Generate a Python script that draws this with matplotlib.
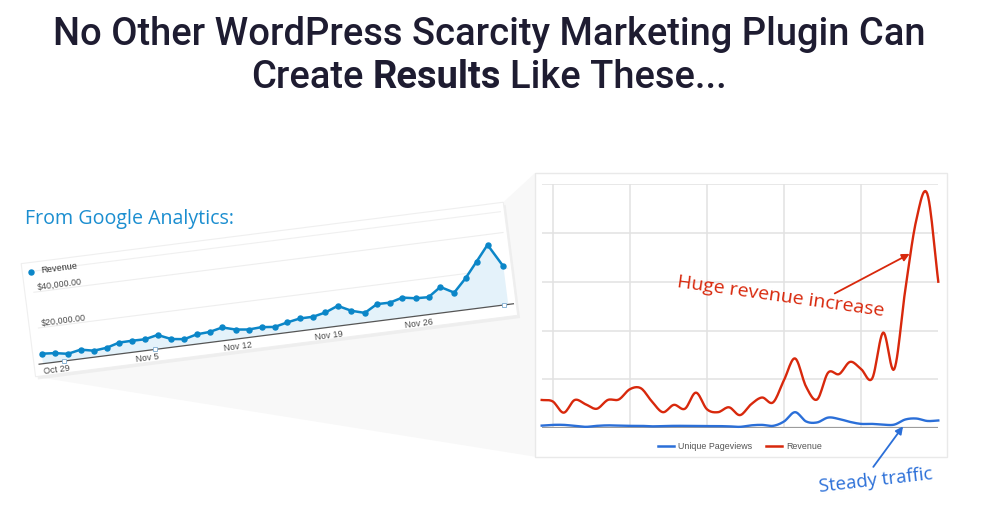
import numpy as np
import matplotlib
matplotlib.use('Agg')
import matplotlib.pyplot as plt
from matplotlib.transforms import Affine2D, IdentityTransform
from matplotlib.patches import Rectangle, Polygon
from matplotlib.lines import Line2D

# ---------------- data ----------------
# Left: Google Analytics revenue, Oct 28 .. Dec 3 (daily)
ga_days = list(range(37))
ga_revenue = [5600, 5000, 3700, 5100, 3600, 4300, 6300, 6400, 6300, 7800,
              4600, 3600, 5400, 5800, 7400, 5300, 4400, 4800, 4000, 5600,
              6900, 6900, 8400, 11200, 7500, 5400, 9400, 9300, 11200, 9900,
              9600, 14400, 10300, 17400, 25800, 34300, 21300]
ga_tick_days = [1, 8, 15, 22, 29]
ga_tick_labels = ['Oct 29', 'Nov 5', 'Nov 12', 'Nov 19', 'Nov 26']
ga_y_ticks = [20000, 40000]
ga_y_labels = ['$20,000.00', '$40,000.00']
ga_annotation_days = [1.6, 8.7, 35.7]

# Right: revenue vs unique pageviews (gridline units), same 37 days
right_days = list(range(37))
right_revenue = [0.58, 0.55, 0.32, 0.58, 0.49, 0.40, 0.58, 0.59, 0.80, 0.82,
                 0.55, 0.33, 0.48, 0.40, 0.73, 0.39, 0.33, 0.43, 0.27, 0.49,
                 0.63, 0.53, 0.99, 1.43, 0.85, 0.59, 1.14, 1.11, 1.36, 1.21,
                 1.02, 1.96, 1.21, 2.83, 4.26, 4.80, 3.00]
right_pageviews = [0.055, 0.07, 0.07, 0.05, 0.03, 0.05, 0.06, 0.055, 0.05, 0.05,
                   0.04, 0.045, 0.05, 0.05, 0.05, 0.045, 0.045, 0.04, 0.03, 0.06,
                   0.07, 0.05, 0.14, 0.33, 0.14, 0.12, 0.22, 0.19, 0.13, 0.09,
                   0.09, 0.075, 0.075, 0.18, 0.20, 0.15, 0.16]
right_grid_x = [1, 8, 15, 22, 29]
right_grid_y = [1, 2, 3, 4, 5]

# ---------------- figure ----------------
W, H, DPI = 1006, 507, 100
fig = plt.figure(figsize=(W / DPI, H / DPI), dpi=DPI)
fig.patch.set_facecolor('white')
renderer = fig.canvas.get_renderer()


def smooth(x, y, n=12):
    """Catmull-Rom style cubic through the points (curve drawing)."""
    x = np.asarray(x, float)
    y = np.asarray(y, float)
    m = np.zeros_like(y)
    m[1:-1] = (y[2:] - y[:-2]) / 2.0
    m[0] = y[1] - y[0]
    m[-1] = y[-1] - y[-2]
    xs, ys = [], []
    for i in range(len(x) - 1):
        t = np.linspace(0, 1, n, endpoint=False)
        h00 = 2 * t**3 - 3 * t**2 + 1
        h10 = t**3 - 2 * t**2 + t
        h01 = -2 * t**3 + 3 * t**2
        h11 = t**3 - t**2
        xs.append(x[i] + t * (x[i + 1] - x[i]))
        ys.append(h00 * y[i] + h10 * m[i] + h01 * y[i + 1] + h11 * m[i + 1])
    xs.append([x[-1]])
    ys.append([y[-1]])
    return np.concatenate(xs), np.concatenate(ys)


# ---------------- title ----------------
TITLE_C = '#1e1c31'
TFONT = 'Roboto'
probe = fig.text(0, 0, 'No Other WordPress Scarcity Marketing Plugin Can',
                 fontsize=20, family=TFONT, weight='medium')
w20 = probe.get_window_extent(renderer).width
probe.remove()
tsize = 20 * 872 / w20
cx = 489 / W
fig.text(cx, 1 - 45 / H, 'No Other WordPress Scarcity Marketing Plugin Can',
         fontsize=tsize, family=TFONT, weight='medium', color=TITLE_C,
         ha='center', va='baseline')

parts = [('Create', 'medium'), ('Results', 'bold'), ('Like These...', 'medium')]
sp = fig.text(0, 0, 'a a', fontsize=tsize, family=TFONT, weight='medium')
sp2 = fig.text(0, 0, 'aa', fontsize=tsize, family=TFONT, weight='medium')
space_w = sp.get_window_extent(renderer).width - sp2.get_window_extent(renderer).width
sp.remove(); sp2.remove()
objs = []
for s, wgt in parts:
    t = fig.text(0, 1 - 88 / H, s, fontsize=tsize, family=TFONT, weight=wgt,
                 color=TITLE_C, ha='left', va='baseline')
    objs.append((t, t.get_window_extent(renderer).width))
total = sum(w for _, w in objs) + space_w * (len(objs) - 1)
xpos = 489 - total / 2
for t, w in objs:
    t.set_x(xpos / W)
    xpos += w + space_w

# ---------------- left (Google Analytics) chart, tilted ----------------
GA_BLUE = '#0b86c8'
X0, Y0 = 43.0, 143.3          # pivot (display px) = day 0 on the baseline
LEN, HGT, ANG = 469.0, 90.0, 7.26
ax_l = fig.add_axes([X0 / W, Y0 / H, LEN / W, HGT / H])
ax_l.set_xlim(0, 36)
ax_l.set_ylim(0, 50000)
ax_l.set_autoscale_on(False)
ax_l.axis('off')
rot = Affine2D().rotate_deg_around(X0, Y0, ANG)
T = ax_l.transData + rot
px_y = 50000 / HGT   # data units per pixel (vertical)

# card, shadow and projection wedge
card_bl = (X0 - 9, Y0 - 12)
card_w, card_h = LEN + 17, 114
shadow = Rectangle((card_bl[0] + 2, card_bl[1] - 3), card_w, card_h,
                   transform=rot, facecolor='#e6e6e6', edgecolor='none',
                   alpha=0.55, zorder=-2)
card = Rectangle(card_bl, card_w, card_h, transform=rot, facecolor='white',
                 edgecolor='#efefef', lw=0.8, zorder=-1)
p_bl = rot.transform(card_bl)
p_tr = rot.transform((card_bl[0] + card_w, card_bl[1] + card_h))
box_l, box_r, box_top, box_bot = 535.0, 946.7, H - 173.0, H - 456.7
wedge = Polygon([p_bl, p_tr, (box_l, box_top), (box_l, box_bot)],
                closed=True, transform=IdentityTransform(),
                facecolor='#f8f8f8', edgecolor='none', zorder=-3)
for a in (wedge, shadow, card):
    fig.add_artist(a)

# gridlines
for v in ga_y_ticks:
    ax_l.plot([0, 36.3], [v, v], color='#eeeeee', lw=0.8, transform=T,
              clip_on=False, zorder=1)
ax_l.plot([0, 36.3], [50000 + 3 * px_y] * 2, color='#f0f0f0', lw=0.8,
          transform=T, clip_on=False, zorder=1)
for v, lab in zip(ga_y_ticks, ga_y_labels):
    ax_l.text(0.3, v + 4 * px_y, lab, transform=T, rotation=ANG,
              rotation_mode='anchor', ha='left', va='center', fontsize=6.4,
              family='Liberation Sans', color='#4a4a4a', clip_on=False)

# area + line
ax_l.fill_between(ga_days, 0, ga_revenue, transform=T, clip_on=False,
                  facecolor='#e4f2fa', edgecolor='none', zorder=2)
ax_l.plot(ga_days, ga_revenue, '-o', color=GA_BLUE, lw=1.8, ms=3.6,
          transform=T, clip_on=False, zorder=4)
# x axis
ax_l.plot([-0.3, 36.4], [0, 0], color='#555555', lw=0.9, transform=T,
          clip_on=False, zorder=3)
ax_l.plot(ga_annotation_days, [0] * len(ga_annotation_days), 's', ms=3.2,
          mfc='white', mec='#8db6d6', mew=0.7, transform=T, clip_on=False,
          zorder=5)
for d, lab in zip(ga_tick_days, ga_tick_labels):
    ax_l.text(d, -8 * px_y, lab, transform=T, rotation=ANG,
              rotation_mode='anchor', ha='center', va='center', fontsize=6.4,
              family='Liberation Sans', color='#4a4a4a', clip_on=False)
# legend
ax_l.plot([0], [92.7 * px_y], 'o', color=GA_BLUE, ms=3.6, transform=T,
          clip_on=False)
ax_l.text(0.75, 92.7 * px_y, 'Revenue', transform=T, rotation=ANG,
          rotation_mode='anchor', ha='left', va='center', fontsize=6.6,
          family='Liberation Sans', color='#333333', clip_on=False)

# heading
probe = fig.text(0, 0, 'From Google Analytics:', fontsize=13, family='Open Sans')
w13 = probe.get_window_extent(renderer).width
probe.remove()
fig.text(25 / W, 1 - 224 / H, 'From Google Analytics:', fontsize=13 * 208 / w13,
         family='Open Sans', color='#1b8ed0', ha='left', va='baseline')

# ---------------- right chart ----------------
RED = '#d8280c'
BLUE = '#2b6fd8'
box = Rectangle((box_l, box_bot), box_r - box_l, box_top - box_bot,
                transform=IdentityTransform(), facecolor='white',
                edgecolor='#e9e9e9', lw=1.0, zorder=-1)
fig.add_artist(box)

pl, pr, pb, pt = 541.7, 938.3, H - 428.3, H - 184.0
ax_r = fig.add_axes([pl / W, pb / H, (pr - pl) / W, (pt - pb) / H])
ax_r.patch.set_visible(False)
ax_r.set_xlim(0, 36)
ax_r.set_ylim(0, 5)
for s in ax_r.spines.values():
    s.set_visible(False)
ax_r.set_xticks([])
ax_r.set_yticks([])
for v in right_grid_y:
    ax_r.axhline(v, color='#e2e2e2', lw=1.1, zorder=1)
for v in right_grid_x:
    ax_r.axvline(v, color='#e2e2e2', lw=1.1, zorder=1)
ax_r.axhline(0, color='#9c9c9c', lw=1.6, zorder=2)

xs, ys = smooth(right_days, right_revenue)
ax_r.plot(xs, ys, color=RED, lw=1.7, zorder=4, clip_on=False)
xs, ys = smooth(right_days, right_pageviews)
ax_r.plot(xs, ys, color=BLUE, lw=1.7, zorder=4, clip_on=False)

handles = [Line2D([], [], color=BLUE, lw=1.8), Line2D([], [], color=RED, lw=1.8)]
leg = ax_r.legend(handles, ['Unique Pageviews', 'Revenue'], loc='upper center',
                  bbox_to_anchor=(0.5, -0.022), ncol=2, frameon=False,
                  prop={'family': 'Liberation Sans', 'size': 6.4},
                  handlelength=1.8, handletextpad=0.4, columnspacing=1.6)
for t in leg.get_texts():
    t.set_color('#555555')

# annotations
ax_r.annotate('', xy=(33.4, 3.57), xytext=(26.6, 2.76),
              arrowprops=dict(arrowstyle='-|>', color=RED, lw=1.3,
                              mutation_scale=11, shrinkA=0, shrinkB=0),
              annotation_clip=False, zorder=6)
ax_r.text(21.7, 2.69, 'Huge revenue increase', rotation=-8,
          rotation_mode='anchor', ha='center', va='center', fontsize=14,
          family='Open Sans', color=RED, clip_on=False, zorder=6)
ax_r.annotate('', xy=(32.8, 0.04), xytext=(30.1, -0.79),
              arrowprops=dict(arrowstyle='-|>', color=BLUE, lw=1.3,
                              mutation_scale=11, shrinkA=0, shrinkB=0),
              annotation_clip=False, zorder=6)
ax_r.text(30.35, -1.06, 'Steady traffic', rotation=6.5,
          rotation_mode='anchor', ha='center', va='center', fontsize=13.5,
          family='Open Sans', color=BLUE, clip_on=False, zorder=6)

fig.savefig('out.png', dpi=DPI, facecolor='white')
